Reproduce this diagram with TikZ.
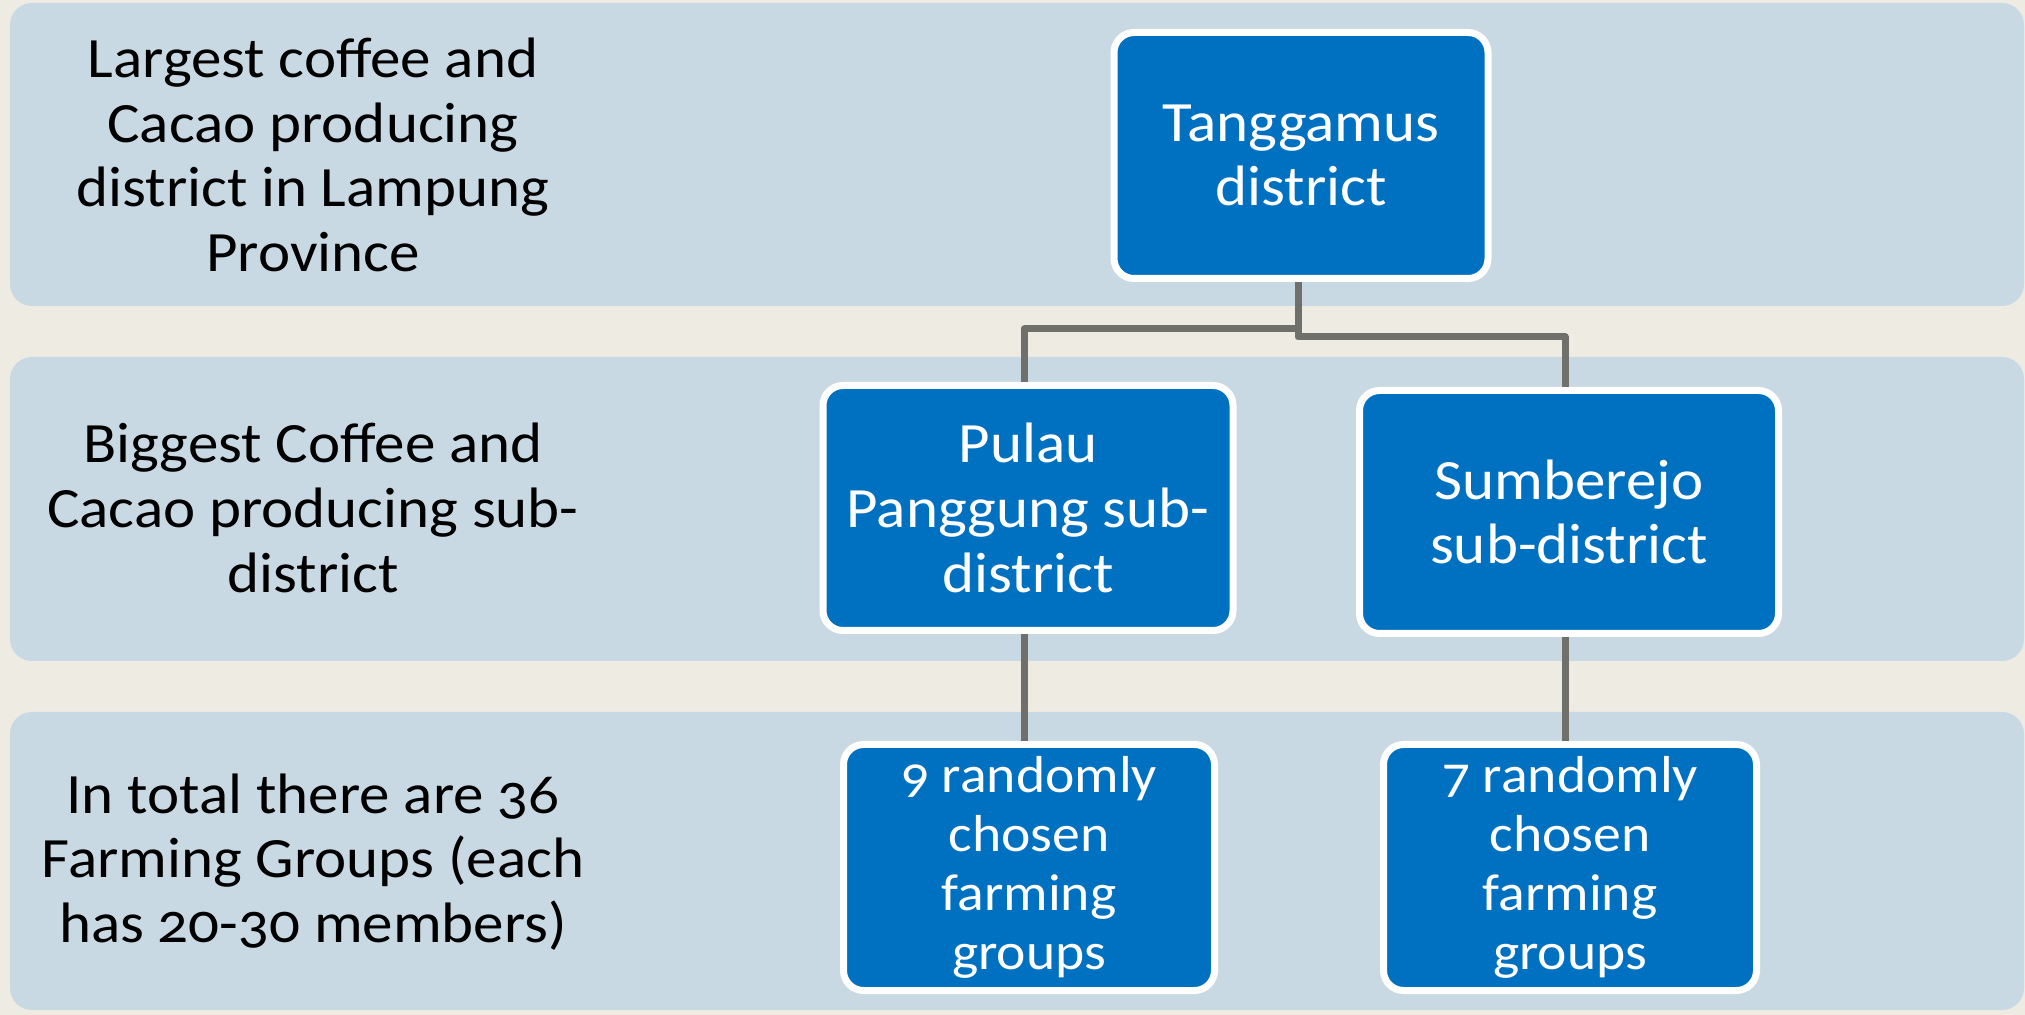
\documentclass[tikz,border=0pt]{standalone}
\usepackage{fontspec}
\setmainfont{Carlito}[Numbers=OldStyle,FakeStretch=1.07]
\begin{document}
\begin{tikzpicture}[x=0.5pt,y=-0.5pt,
  band/.style={fill=bandc,draw=none,rounded corners=11pt},
  lbl/.style={align=center,font=\fontsize{28.5}{32.3}\selectfont,text=black},
  bbox/.style={fill=boxc,draw=white,line width=3.5pt,rounded corners=10pt,
    text=white,align=center,inner sep=0pt},
  big/.style={font=\fontsize{28.5}{32.3}\selectfont},
  small/.style={font=\fontsize{26}{29.5}\selectfont},
  conn/.style={draw=connc,line width=3.5pt,line join=round}]
\definecolor{bgc}{HTML}{EEEBE3}
\definecolor{bandc}{HTML}{C9D9E3}
\definecolor{boxc}{HTML}{0070C0}
\definecolor{connc}{HTML}{6F6F6B}
\fill[bgc] (0,0) rectangle (2025,1015);
\useasboundingbox (0,0) rectangle (2025,1015);
% bands
\path[band] (10,3) rectangle (2024,306);
\path[band] (10,357) rectangle (2024,661);
\path[band] (10,712) rectangle (2024,1010);
% left labels
\node[lbl] (l1) at (313,155) {Largest coffee and\\Cacao producing\\district in Lampung\\Province};
\node[lbl] (l2) at (313,508) {Biggest Coffee and\\Cacao producing sub-\\district};
\node[lbl] (l3) at (313,862) {In total there are 36\\Farming Groups (each\\has 20-30 members)};
% boxes
\node[bbox,big,minimum width=187pt,minimum height=123pt] (tang) at (1301,155.5) {Tanggamus\\district};
\node[bbox,big,minimum width=205pt,minimum height=122.5pt] (pul) at (1028,508) {Pulau\\Panggung sub-\\district};
\node[bbox,big,minimum width=209.5pt,minimum height=121.5pt] (sum) at (1569,512) {Sumberejo\\sub-district};
\node[bbox,small,minimum width=185.5pt,minimum height=123pt] (g9) at (1029,867.5) {9 randomly\\chosen\\farming\\groups};
\node[bbox,small,minimum width=186.5pt,minimum height=123pt] (g7) at (1570,867.5) {7 randomly\\chosen\\farming\\groups};
% connectors
\coordinate (hl) at (0,329);
\coordinate (hr) at (0,337);
\coordinate (xt) at (1298,0);
\coordinate (xl) at (1024,0);
\coordinate (xr) at (1565,0);
\draw[conn] (tang.south -| xt) -- (xt |- hl) -| (pul.north -| xl);
\draw[conn] (tang.south -| xt) -- (xt |- hr) -| (sum.north -| xr);
\draw[conn] (pul.south -| xl) -- (g9.north -| xl);
\draw[conn] (sum.south -| xr) -- (g7.north -| xr);
\end{tikzpicture}
\end{document}
